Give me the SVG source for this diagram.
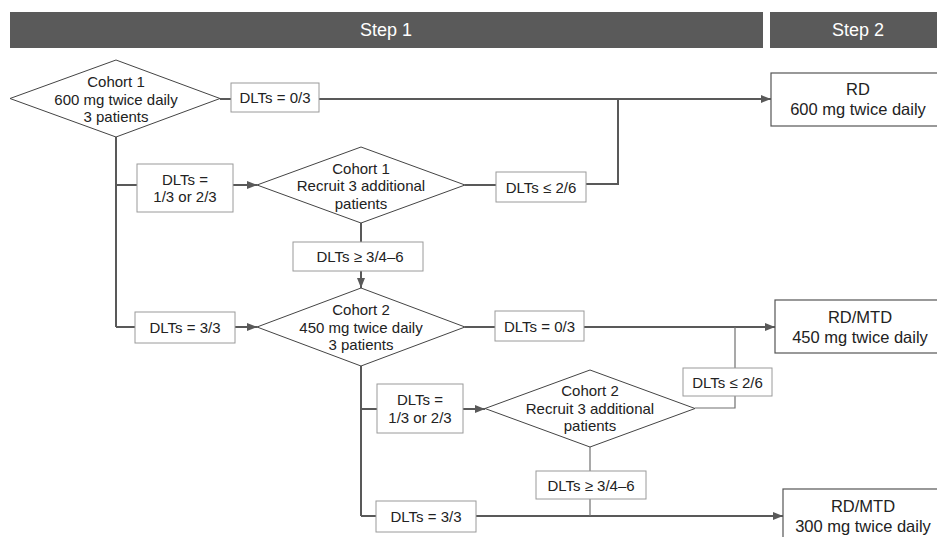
<svg xmlns="http://www.w3.org/2000/svg" width="937" height="537" viewBox="0 0 937 537">
<style>
text{font-family:"Liberation Sans",Arial,sans-serif;fill:#222;text-anchor:middle}
.hdr{fill:#5a5a5a}
.ht{fill:#fff;font-size:18px}
.dia{fill:#fff;stroke:#444;stroke-width:1}
.dt{font-size:15px}
.lbl{fill:#fff;stroke:#9a9a9a;stroke-width:1}
.lt{font-size:15px}
.res{fill:#fff;stroke:#555;stroke-width:1.2}
.rt{font-size:16.5px}
.c{fill:none;stroke:#595959;stroke-width:2}
.ct{fill:none;stroke:#707070;stroke-width:1.2}
</style>
<defs>
<marker id="ah" viewBox="0 0 10 8" refX="10" refY="4" markerWidth="10" markerHeight="8" markerUnits="userSpaceOnUse" orient="auto">
<path d="M0,0 L10,4 L0,8 z" fill="#595959"/>
</marker>
</defs>

<g id="header">
<rect class="hdr" x="10" y="12" width="753" height="36"/>
<text class="ht" x="386" y="36">Step 1</text>
<rect class="hdr" x="770" y="12" width="170" height="36"/>
<text class="ht" x="858" y="36">Step 2</text>
</g>

<g id="connectors">
<line class="c" x1="220" y1="99" x2="231" y2="99"/>
<line class="c" x1="319" y1="99" x2="771" y2="99" marker-end="url(#ah)"/>
<polyline class="c" points="586,184 618,184 618,99"/>
<line class="c" x1="116" y1="137" x2="116" y2="327"/>
<line class="c" x1="116" y1="185" x2="137" y2="185"/>
<line class="c" x1="116" y1="327" x2="135" y2="327"/>
<line class="c" x1="233" y1="185" x2="257" y2="185" marker-end="url(#ah)"/>
<line class="c" x1="235" y1="327" x2="257" y2="327" marker-end="url(#ah)"/>
<line class="c" x1="465" y1="185" x2="496" y2="185"/>
<line class="c" x1="361" y1="223" x2="361" y2="242"/>
<line class="c" x1="361" y1="271" x2="361" y2="288" marker-end="url(#ah)"/>
<line class="c" x1="465" y1="327" x2="495" y2="327"/>
<line class="c" x1="584" y1="327" x2="775" y2="327" marker-end="url(#ah)"/>
<line class="ct" x1="735" y1="327" x2="735" y2="368"/>
<polyline class="ct" points="735,396 735,408 695,408"/>
<line class="c" x1="361" y1="366" x2="361" y2="516"/>
<line class="c" x1="361" y1="409" x2="377" y2="409"/>
<line class="c" x1="361" y1="516" x2="376" y2="516"/>
<line class="c" x1="463" y1="409" x2="485" y2="409" marker-end="url(#ah)"/>
<line class="c" x1="476" y1="516" x2="783" y2="516" marker-end="url(#ah)"/>
<line class="ct" x1="590" y1="447" x2="590" y2="471"/>
<line class="ct" x1="590" y1="499" x2="590" y2="516"/>
</g>

<g id="cohort1">
<polygon class="dia" points="10,98.5 116,60 220,98.5 116,137"/>
<text class="dt" x="116" y="87">Cohort 1</text>
<text class="dt" x="116" y="104.5">600 mg twice daily</text>
<text class="dt" x="116" y="122">3 patients</text>
</g>

<g id="cohort1-recruit">
<polygon class="dia" points="257,185 361,147 465,185 361,223"/>
<text class="dt" x="361" y="173.5">Cohort 1</text>
<text class="dt" x="361" y="191">Recruit 3 additional</text>
<text class="dt" x="361" y="208.5">patients</text>
</g>

<g id="cohort2">
<polygon class="dia" points="257,327 361,288 465,327 361,366"/>
<text class="dt" x="361" y="315">Cohort 2</text>
<text class="dt" x="361" y="332.5">450 mg twice daily</text>
<text class="dt" x="361" y="350">3 patients</text>
</g>

<g id="cohort2-recruit">
<polygon class="dia" points="485,408.5 590,370 695,408.5 590,447"/>
<text class="dt" x="590" y="396">Cohort 2</text>
<text class="dt" x="590" y="413.5">Recruit 3 additional</text>
<text class="dt" x="590" y="431">patients</text>
</g>

<g id="rd600">
<rect class="res" x="771" y="73" width="180" height="53"/>
<text class="rt" x="858" y="95">RD</text>
<text class="rt" x="858" y="115">600 mg twice daily</text>
</g>

<g id="rdmtd450">
<rect class="res" x="775" y="300" width="180" height="53"/>
<text class="rt" x="860" y="323">RD/MTD</text>
<text class="rt" x="860" y="343">450 mg twice daily</text>
</g>

<g id="rdmtd300">
<rect class="res" x="783" y="489" width="180" height="60"/>
<text class="rt" x="863" y="512">RD/MTD</text>
<text class="rt" x="863" y="532">300 mg twice daily</text>
</g>

<g id="l-c1-0of3">
<rect class="lbl" x="231" y="83" width="88" height="29"/>
<text class="lt" x="275" y="103">DLTs = 0/3</text>
</g>
<g id="l-c1-1or2of3">
<rect class="lbl" x="137" y="164" width="96" height="48"/>
<text class="lt" x="185" y="184.5">DLTs =</text>
<text class="lt" x="185" y="202">1/3 or 2/3</text>
</g>
<g id="l-c1-le2of6">
<rect class="lbl" x="496" y="172" width="90" height="30"/>
<text class="lt" x="541" y="192.5">DLTs ≤ 2/6</text>
</g>
<g id="l-c1-ge3of6">
<rect class="lbl" x="293" y="242" width="130" height="29"/>
<text class="lt" x="360" y="262">DLTs ≥ 3/4–6</text>
</g>
<g id="l-c1-3of3">
<rect class="lbl" x="135" y="312" width="100" height="31"/>
<text class="lt" x="185" y="332.5">DLTs = 3/3</text>
</g>
<g id="l-c2-0of3">
<rect class="lbl" x="495" y="311" width="89" height="30"/>
<text class="lt" x="539.5" y="331.5">DLTs = 0/3</text>
</g>
<g id="l-c2-1or2of3">
<rect class="lbl" x="377" y="384" width="86" height="49"/>
<text class="lt" x="420" y="405">DLTs =</text>
<text class="lt" x="420" y="422.5">1/3 or 2/3</text>
</g>
<g id="l-c2-le2of6">
<rect class="lbl" x="683" y="368" width="89" height="28"/>
<text class="lt" x="727.5" y="387.5">DLTs ≤ 2/6</text>
</g>
<g id="l-c2-ge3of6">
<rect class="lbl" x="536" y="471" width="110" height="28"/>
<text class="lt" x="591" y="490.5">DLTs ≥ 3/4–6</text>
</g>
<g id="l-c2-3of3">
<rect class="lbl" x="376" y="501" width="100" height="31"/>
<text class="lt" x="426" y="521.5">DLTs = 3/3</text>
</g>
</svg>
